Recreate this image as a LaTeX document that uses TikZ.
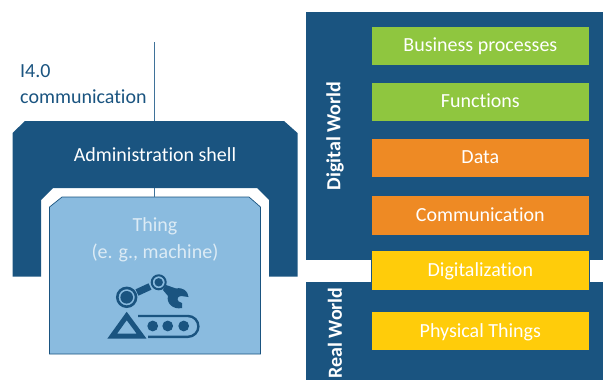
\documentclass[tikz,border=0pt]{standalone}
\usepackage{fontspec}
\setmainfont[Ligatures={NoCommon}]{Carlito}
\usepackage{xcolor}
\usetikzlibrary{positioning}
\definecolor{shellblue}{HTML}{1A5480}
\definecolor{thingblue}{HTML}{8ABBDF}
\definecolor{linkblue}{HTML}{3F7299}
\definecolor{paleblue}{HTML}{DCEBF5}
\definecolor{layergreen}{HTML}{8FC63F}
\definecolor{layerorange}{HTML}{EE8A24}
\definecolor{layeryellow}{HTML}{FFCC0A}

\begin{document}
\begin{tikzpicture}[
    x=1pt, y=-1pt,
    panel/.style={rectangle, fill=shellblue, anchor=north west, inner sep=0pt, outer sep=0pt, minimum width=297pt},
    layerbox/.style={rectangle, draw=shellblue, line width=0.7pt, minimum width=217.5pt, minimum height=39.5pt, inner sep=0pt, outer sep=0pt, text height=16pt, text depth=4pt, text=white, font=\fontsize{20}{24}\selectfont},
    sidetext/.style={rotate=90, text=white, font=\fontsize{20}{24}\selectfont\bfseries},
    link/.style={draw=linkblue, line width=0.9pt},
    iconline/.style={draw=shellblue, fill=none}
]
\useasboundingbox (0,0) rectangle (603,380);

% right column
\node[panel, minimum height=248.5pt] (digital) at (306,11.5) {};
\node[panel, minimum height=98.3pt] (real) at (306,281.7) {};
\node[layerbox, fill=layergreen, anchor=north west] (business) at (371.6,26) {Business processes};
\node[layerbox, fill=layergreen, below=16.5pt of business] (functions) {Functions};
\node[layerbox, fill=layerorange, below=16.5pt of functions] (data) {Data};
\node[layerbox, fill=layerorange, below=18pt of data] (communication) {Communication};
\node[layerbox, fill=layeryellow, below=15.8pt of communication] (digitalization) {Digitalization};
\node[layerbox, fill=layeryellow, below=21pt of digitalization] (physical) {Physical Things};
\node[sidetext] (digitallabel) at (335,136) {Digital World};
\node[sidetext] (reallabel) at (335,333) {Real World};

% left column
\coordinate (commtop) at (154.7,42);
\coordinate (shelltop) at (154.7,121);
\coordinate (shellin) at (154.7,188);
\coordinate (thingtop) at (154.7,197);
\fill[shellblue] (25,121) -- (284,121) -- (297.5,133) -- (297.5,276.7) -- (269,276.7) -- (269,200) -- (257,188)
    -- (53,188) -- (41,200) -- (41,276.7) -- (12.5,276.7) -- (12.5,133) -- cycle;
\filldraw[fill=thingblue, draw=shellblue, line width=0.7pt] (62,197) -- (249,197) -- (260.5,207) -- (260.5,354)
    -- (49.5,354) -- (49.5,207) -- cycle;
\draw[link] (commtop) -- (shelltop);
\draw[link] (shellin) -- (thingtop);
\node[anchor=north west, align=left, inner sep=0pt, text=shellblue, font=\fontsize{20}{26}\selectfont] (commlabel) at (20,64.5) {I4.0\\communication};
\node[text=white, font=\fontsize{20}{24}\selectfont] (shelllabel) at (155,155) {Administration shell};
\node[align=center, inner sep=0pt, text=paleblue, font=\fontsize{20}{27}\selectfont] (thinglabel) at (155,240) {Thing\\(e. g., machine)};

% robot icon
\draw[iconline, line width=2.6pt] (126.7,297.3) circle (9.4);
\fill[shellblue] (126.7,297.3) circle (6.3);
\draw[iconline, line width=2pt] (158.7,282.3) circle (7);
\fill[shellblue] (158.7,282.3) circle (4.2);
\draw[iconline, line width=7pt] (137,292.5) -- (150,286.5);
\fill[shellblue] (166,285) -- (176,288.5) .. controls (183,287) and (188,291) .. (188.5,297) -- (181,296)
    .. controls (176.5,296) and (176,302) .. (182,303) -- (182,308) .. controls (173,310) and (166,303) .. (168,296)
    -- (163,290) -- cycle;
\draw[iconline, line width=5pt, line join=miter] (126.7,316) -- (112.3,336) -- (141.5,336) -- cycle;
\draw[iconline, line width=2.4pt] (138,316) -- (188,316) arc (-90:90:10.4) -- (148,336.8);
\foreach \dotx in {152.7,167.7,183.7}
    \fill[shellblue] (\dotx,326) circle (5.4);
\end{tikzpicture}
\end{document}
